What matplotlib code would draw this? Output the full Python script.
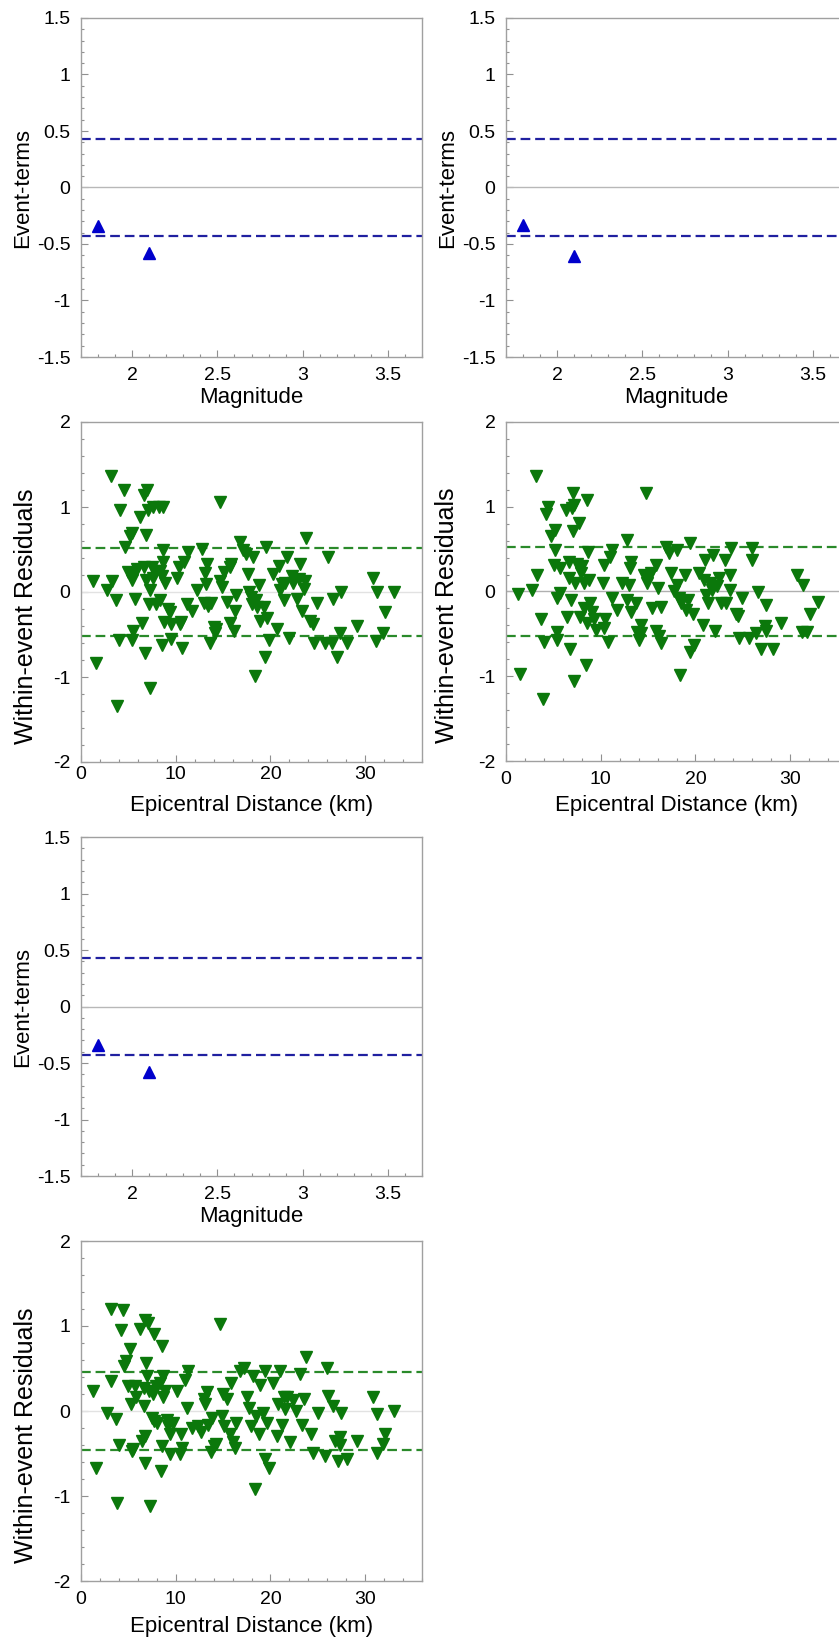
import numpy as np
import matplotlib
matplotlib.use('Agg')
import matplotlib.pyplot as plt
from matplotlib.ticker import MultipleLocator

plt.rcParams['font.family'] = ['Liberation Sans', 'DejaVu Sans']
plt.rcParams['lines.scale_dashes'] = False

# ---------------- data ----------------
# event terms vs magnitude (three panels)
mag = [1.8, 2.1]
ev_1 = [-0.34, -0.58]
ev_2 = [-0.33, -0.61]
ev_3 = [-0.34, -0.58]
tau = [0.425, 0.425, 0.425]

# within-event residuals vs epicentral distance, panel 1 (left, middle)
dist_1 = [1.3, 1.6, 2.7, 3.2, 3.3, 3.7, 3.8, 4.0, 4.1, 4.5, 4.6, 5.0, 5.2, 5.35, 5.35, 5.5, 5.45, 5.35,
          5.7, 5.9, 6.2, 6.4, 6.6, 6.65, 6.8, 6.9, 6.9, 7.0, 7.1, 7.2, 7.3, 7.3, 7.5, 7.6, 7.6, 7.8,
          7.9, 8.2, 8.3, 8.35, 8.5, 8.6, 8.7, 8.7, 8.7, 8.8, 8.9, 9.2, 9.4, 9.5, 9.5, 10.1, 10.3, 10.5,
          10.6, 10.7, 10.9, 11.2, 11.3, 11.7, 12.2, 12.8, 13.0, 13.1, 13.2, 13.3, 13.45, 13.6, 13.7,
          14.0, 14.15, 14.3, 14.7, 14.7, 14.9, 15.1, 15.4, 15.7, 15.7, 15.8, 16.1, 16.3, 16.4, 16.8,
          17.1, 17.4, 17.6, 17.7, 17.9, 18.0, 18.2, 18.4, 18.5, 18.6, 18.8, 18.9, 19.3, 19.4, 19.5,
          19.6, 19.9, 20.3, 20.7, 20.95, 21.0, 21.2, 21.4, 21.55, 21.8, 22.0, 22.25, 22.4, 22.8, 23.0,
          23.1, 23.3, 23.5, 23.7, 23.8, 24.2, 24.5, 24.6, 24.9, 25.8, 26.05, 26.5, 26.6, 27.0, 27.3,
          27.4, 28.1, 29.1, 30.8, 31.1, 31.3, 31.9, 32.1, 33.0]
res_1 = [0.13, -0.84, 0.02, 1.36, 0.13, -0.09, -1.34, -0.57, 0.96, 1.2, 0.53, 0.23, 0.66, 0.69, 0.14,
         0.21, -0.46, -0.56, -0.08, 0.27, 0.88, -0.37, 0.29, 1.14, -0.72, 0.67, 0.14, 1.2, 0.96, -0.14,
         -1.13, 0.02, 0.29, 1.0, 0.17, 0.25, -0.14, 1.0, 0.25, -0.10, -0.62, 0.19, 0.49, 1.0, 0.35,
         -0.35, 0.10, -0.2, -0.24, -0.38, -0.55, 0.17, 0.29, -0.38, -0.35, -0.66, 0.35, -0.14, 0.47,
         -0.22, 0.02, 0.51, -0.13, 0.22, 0.09, 0.33, -0.16, -0.60, -0.13, -0.41, -0.48, -0.44, 1.06,
         0.13, 0.06, 0.23, -0.12, 0.29, -0.36, 0.33, -0.46, -0.22, -0.04, 0.59, 0.49, 0.45, 0.21, 0.0,
         -0.06, -0.14, 0.41, -0.99, -0.10, -0.18, 0.08, -0.34, -0.18, -0.77, 0.53, -0.31, -0.56, 0.21,
         -0.44, 0.30, 0.02, 0.09, -0.10, 0.11, 0.41, -0.54, 0.19, 0.11, -0.08, 0.15, 0.33, -0.22, 0.04,
         0.13, 0.63, -0.34, -0.38, -0.60, -0.13, -0.60, 0.41, -0.60, -0.08, -0.77, -0.48, 0.0, -0.60,
         -0.40, 0.17, -0.58, 0.0, -0.48, -0.24, 0.0]

# panel 2 (right, middle)
dist_2 = [1.27, 1.5, 2.75, 3.2, 3.3, 3.7, 3.9, 4.0, 4.2, 4.45, 4.7, 5.2, 5.2, 5.05, 5.4, 5.4, 5.4, 5.75,
          5.75, 6.3, 6.4, 6.6, 6.7, 6.8, 6.9, 7.0, 7.1, 7.1, 7.2, 7.2, 7.3, 7.5, 7.7, 7.8, 7.9, 8.05,
          8.2, 8.2, 8.4, 8.5, 8.6, 8.65, 8.75, 8.9, 9.1, 9.3, 9.45, 10.2, 10.3, 10.5, 10.3, 10.8, 11.0,
          11.2, 11.2, 11.75, 12.2, 12.8, 13.0, 13.2, 13.1, 12.8, 13.2, 13.7, 13.8, 14.0, 14.2, 14.3,
          14.6, 14.75, 14.9, 15.1, 15.3, 15.4, 15.8, 15.8, 16.0, 16.2, 16.35, 16.4, 16.9, 17.2, 17.4,
          17.75, 18.1, 18.0, 18.3, 18.35, 18.5, 18.9, 19.0, 19.2, 19.45, 19.45, 19.7, 19.9, 20.4,
          20.75, 20.9, 21.0, 21.1, 21.35, 21.55, 21.7, 21.9, 22.05, 22.3, 22.5, 22.7, 23.1, 23.2, 23.6,
          23.7, 23.75, 24.3, 24.5, 24.6, 24.9, 25.7, 26.0, 26.0, 26.4, 26.6, 26.9, 27.3, 27.45, 27.4,
          28.2, 29.05, 30.75, 31.35, 31.2, 31.8, 32.05, 32.9]
res_2 = [-0.03, -0.97, 0.02, 1.36, 0.20, -0.33, -1.27, -0.59, 0.91, 1.0, 0.65, 0.73, 0.49, 0.31, -0.08,
         -0.57, -0.48, -0.02, 0.28, 0.96, -0.30, 0.35, 0.16, -0.68, -0.10, 0.98, 1.16, 0.71, 1.02, -1.06,
         0.10, 0.33, 0.81, -0.30, 0.22, 0.30, -0.20, 0.10, -0.87, -0.37, 1.08, 0.47, 0.14, -0.14, -0.24,
         -0.33, -0.45, 0.10, 0.31, -0.33, -0.43, -0.59, 0.41, 0.49, -0.08, -0.22, 0.10, 0.61, 0.08, 0.35,
         0.28, -0.10, -0.24, -0.14, -0.48, -0.57, -0.39, -0.49, 0.20, 1.16, 0.10, 0.18, 0.22, -0.20,
         0.31, -0.47, 0.04, -0.53, -0.18, -0.61, 0.53, 0.45, 0.22, 0.0, 0.49, 0.08, -0.08, -0.99, -0.14,
         0.20, -0.22, -0.10, 0.57, -0.71, -0.26, -0.63, 0.22, -0.39, 0.14, 0.37, -0.04, -0.13, 0.10,
         0.02, 0.43, -0.47, 0.06, 0.16, -0.14, 0.37, -0.13, 0.20, 0.02, 0.51, -0.26, -0.29, -0.55, -0.08,
         -0.55, 0.51, 0.37, -0.49, -0.01, -0.68, -0.41, -0.16, -0.47, -0.68, -0.37, 0.19, 0.08, -0.48,
         -0.48, -0.26, -0.12]

# panel 3 (left, bottom)
dist_3 = [1.3, 1.6, 2.7, 3.2, 3.2, 3.7, 3.8, 4.0, 4.2, 4.4, 4.55, 4.8, 5.2, 5.0, 5.25, 5.35, 5.5, 5.7,
          5.8, 6.2, 6.4, 6.6, 6.65, 6.8, 6.8, 6.8, 6.9, 7.0, 7.1, 7.2, 7.3, 7.45, 7.55, 7.7, 7.7, 7.9,
          8.05, 8.3, 8.4, 8.5, 8.6, 8.7, 8.7, 8.9, 9.05, 9.2, 9.4, 9.4, 9.75, 10.1, 10.5, 10.6, 10.7,
          10.95, 11.15, 11.3, 11.7, 12.4, 12.7, 13.0, 13.1, 13.3, 13.45, 13.7, 13.8, 14.0, 14.3, 14.7,
          14.85, 14.95, 15.1, 15.4, 15.7, 15.8, 16.0, 16.3, 16.4, 16.8, 17.2, 17.5, 17.7, 17.9, 18.2,
          18.4, 18.5, 18.8, 18.95, 19.2, 19.4, 19.4, 19.6, 19.9, 20.3, 20.7, 20.85, 21.0, 21.2, 21.4,
          21.55, 21.8, 22.1, 22.35, 22.7, 23.1, 23.3, 23.55, 23.8, 24.3, 24.5, 25.0, 25.8, 25.95, 26.1,
          26.6, 26.8, 27.1, 27.3, 27.35, 27.4, 28.1, 29.1, 30.8, 31.2, 31.3, 31.85, 32.1, 33.0]
res_3 = [0.23, -0.67, -0.02, 1.20, 0.35, -0.09, -1.08, -0.40, 0.95, 1.19, 0.53, 0.59, 0.73, 0.29, 0.08,
         -0.47, -0.45, 0.29, 0.17, 0.96, -0.35, 0.06, 0.27, -0.29, -0.61, 1.07, 0.57, 0.41, 1.04, 0.24,
         -1.12, -0.08, 0.20, 0.91, -0.12, 0.29, -0.14, 0.33, -0.71, 0.76, -0.41, 0.41, 0.16, 0.24, -0.10,
         -0.18, -0.27, -0.51, -0.14, 0.24, -0.51, -0.27, -0.43, 0.37, 0.04, 0.47, -0.20, -0.18, -0.25,
         0.14, 0.08, 0.22, -0.16, -0.48, -0.08, -0.41, -0.39, 1.02, -0.06, 0.20, -0.18, 0.14, -0.27,
         0.33, -0.37, -0.44, -0.14, 0.47, 0.51, 0.16, 0.04, -0.18, 0.41, -0.92, -0.06, -0.27, 0.31,
         -0.02, 0.47, -0.57, -0.14, -0.67, 0.33, -0.29, 0.08, 0.47, -0.16, 0.16, 0.02, 0.16, -0.37,
         0.13, 0.0, 0.43, -0.16, 0.14, 0.63, -0.27, -0.49, -0.02, -0.53, 0.51, 0.18, 0.06, -0.35, -0.59,
         -0.31, -0.40, -0.02, -0.57, -0.35, 0.16, -0.49, -0.04, -0.39, -0.27, 0.0]
phi = [0.52, 0.52, 0.46]

W, H = 839, 1642
fig = plt.figure(figsize=(W / 100, H / 100), dpi=100)

def box(l, t, r, b):
    # pixel box -> figure coords
    return [l / W, 1 - b / H, (r - l) / W, (b - t) / H]

def style(ax, xpad):
    for s in ax.spines.values():
        s.set_color('#a0a0a0')
        s.set_linewidth(1.0)
    ax.tick_params(which='both', direction='in', color='#909090', labelsize=14,
                   top=False, right=False)
    ax.tick_params(axis='y', pad=7.5)
    ax.tick_params(axis='x', pad=xpad)
    ax.tick_params(which='major', length=5, width=0.8)
    ax.tick_params(which='minor', length=2.5, width=0.8)

def fmt(v, pos):
    return ('%g' % v)

def event_panel(pos, ev, t):
    ax = fig.add_axes(box(*pos))
    ax.axhline(0, color='#b8b8b8', lw=1)
    ax.axhline(t, color='#2020a0', lw=1.6, dashes=(7, 3.5))
    ax.axhline(-t, color='#2020a0', lw=1.6, dashes=(7, 3.5))
    ax.plot(mag, ev, '^', color='#0000cc', ms=8.5, mec='#0000cc')
    ax.set_xlim(1.7, 3.7)
    ax.set_ylim(-1.5, 1.5)
    ax.xaxis.set_major_locator(MultipleLocator(0.5))
    ax.xaxis.set_minor_locator(MultipleLocator(0.1))
    ax.yaxis.set_major_locator(MultipleLocator(0.5))
    ax.yaxis.set_minor_locator(MultipleLocator(0.1))
    ax.xaxis.set_major_formatter(fmt)
    ax.yaxis.set_major_formatter(fmt)
    style(ax, 7)
    ax.set_xlabel('Magnitude', fontsize=16)
    ax.xaxis.set_label_coords(0.5, -0.088)
    ax.set_ylabel('Event-terms', fontsize=16)
    ax.yaxis.set_label_coords(-0.141, 0.5)
    return ax

def resid_panel(pos, d, r, p, zc, xpad, ylx, xly):
    ax = fig.add_axes(box(*pos))
    ax.axhline(0, color=zc, lw=1)
    ax.axhline(p, color='#2a8a2a', lw=1.6, dashes=(7, 3.5))
    ax.axhline(-p, color='#2a8a2a', lw=1.6, dashes=(7, 3.5))
    ax.plot(d, r, 'v', color='#0b780b', ms=8, mec='#0b780b')
    ax.set_xlim(0, 36)
    ax.set_ylim(-2, 2)
    ax.xaxis.set_major_locator(MultipleLocator(10))
    ax.xaxis.set_minor_locator(MultipleLocator(2))
    ax.yaxis.set_major_locator(MultipleLocator(1))
    ax.yaxis.set_minor_locator(MultipleLocator(0.2))
    ax.xaxis.set_major_formatter(fmt)
    ax.yaxis.set_major_formatter(fmt)
    style(ax, xpad)
    ax.set_xlabel('Epicentral Distance (km)', fontsize=16)
    ax.xaxis.set_label_coords(0.5, xly)
    ax.set_ylabel('Within-event Residuals', fontsize=18)
    ax.yaxis.set_label_coords(ylx, 0.43)
    return ax

# left column
event_panel((81, 18, 422, 357), ev_1, tau[0])
resid_panel((81, 422, 422, 762), dist_1, res_1, phi[0], '#e2e2e2', 3, -0.125, -0.097)
event_panel((81, 837, 422, 1176), ev_3, tau[2])
resid_panel((81, 1241, 422, 1581), dist_3, res_3, phi[2], '#e2e2e2', 7, -0.125, -0.103)

# right column (cut off at the image edge)
event_panel((506, 18, 847, 357), ev_2, tau[1])
resid_panel((506, 422, 847, 761), dist_2, res_2, phi[1], '#b0b0b0', 7, -0.137, -0.1)

plt.savefig('out.png', dpi=100)
